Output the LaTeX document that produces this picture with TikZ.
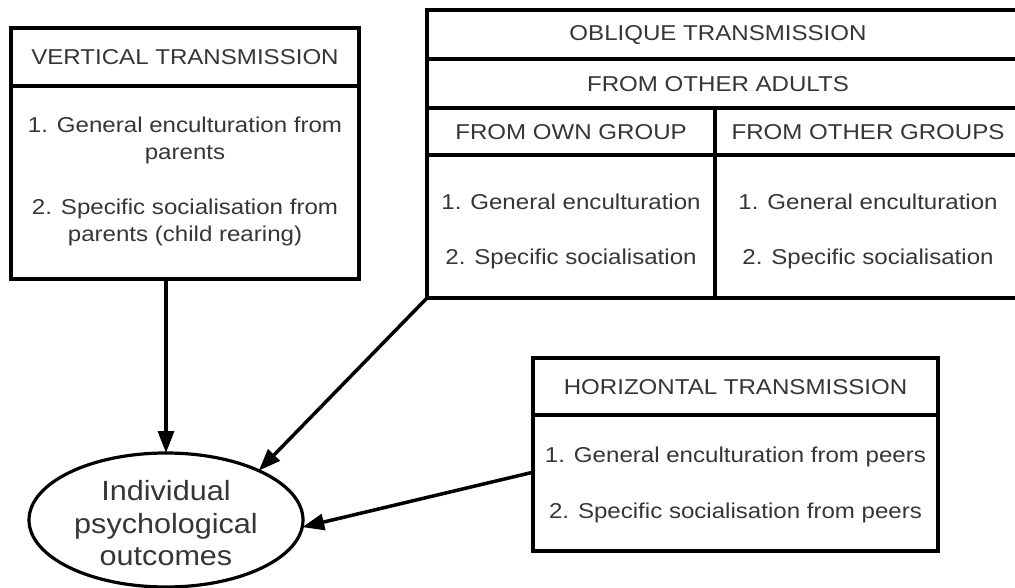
\documentclass[tikz,border=0pt]{standalone}
\usepackage{fontspec}
\setmainfont{Liberation Sans}
\usetikzlibrary{arrows.meta,shapes.geometric}
\definecolor{ink}{HTML}{363636}
\tikzset{
  frame/.style={draw=black, line width=3.2pt, inner sep=0pt, outer sep=0pt, anchor=north west},
  rule/.style={draw=black, line width=3.2pt},
  txt/.style={text=ink, inner sep=0pt, anchor=base, xscale=1.12,
    font=\fontsize{21.5}{26}\selectfont},
  big/.style={text=ink, inner sep=0pt, anchor=base, xscale=1.1,
    font=\fontsize{27.8}{33}\selectfont},
  link/.style={draw=black, line width=3.5pt, -{Triangle[length=22pt,width=16pt]}},
}
\begin{document}
\begin{tikzpicture}[x=1pt,y=-1pt]
\useasboundingbox (0,0) rectangle (1015,588);
\fill[white] (0,0) rectangle (1015,588);
\clip (0,0) rectangle (1015,588);

% Vertical transmission
\node[frame, minimum width=348pt, minimum height=251pt] (vbox) at (11,28) {};
\coordinate (vdiv) at (0,86);
\draw[rule] (vbox.west |- vdiv) -- (vbox.east |- vdiv);
\node[txt] (vhead) at (185,65) {VERTICAL TRANSMISSION};
\node[txt] (v1a) at (185,133) {1. General enculturation from};
\node[txt] (v1b) at (185,160) {parents};
\node[txt] (v2a) at (185,215) {2. Specific socialisation from};
\node[txt] (v2b) at (185,242) {parents (child rearing)};

% Oblique transmission (runs past the right edge)
\node[frame, minimum width=595pt, minimum height=288pt] (obox) at (427,10) {};
\coordinate (orow1) at (0,59);
\coordinate (orow2) at (0,108);
\coordinate (orow3) at (0,155);
\coordinate (ocol) at (715,0);
\draw[rule] (obox.west |- orow1) -- (obox.east |- orow1);
\draw[rule] (obox.west |- orow2) -- (obox.east |- orow2);
\draw[rule] (obox.west |- orow3) -- (obox.east |- orow3);
\draw[rule] (ocol |- orow2) -- (ocol |- obox.south);
\node[txt] (ohead) at (718,41) {OBLIQUE TRANSMISSION};
\node[txt] (oadults) at (718,92) {FROM OTHER ADULTS};
\node[txt] (oown) at (571,140) {FROM OWN GROUP};
\node[txt] (oother) at (868,140) {FROM OTHER GROUPS};
\node[txt] (oown1) at (571,210) {1. General enculturation};
\node[txt] (oown2) at (571,265) {2. Specific socialisation};
\node[txt] (oother1) at (868,210) {1. General enculturation};
\node[txt] (oother2) at (868,265) {2. Specific socialisation};

% Horizontal transmission
\node[frame, minimum width=405pt, minimum height=193pt] (hbox) at (533,358) {};
\coordinate (hdiv) at (0,415);
\draw[rule] (hbox.west |- hdiv) -- (hbox.east |- hdiv);
\node[txt] (hhead) at (735.5,394) {HORIZONTAL TRANSMISSION};
\node[txt] (h1) at (735.5,462) {1. General enculturation from peers};
\node[txt] (h2) at (735.5,518) {2. Specific socialisation from peers};

% Outcome
\node[draw=black, ellipse, line width=3.2pt, minimum width=274pt, minimum height=134pt,
  inner sep=0pt, outer sep=0pt] (ell) at (166,520) {};
\node[big] (e1) at (166,500) {Individual};
\node[big] (e2) at (166,533) {psychological};
\node[big] (e3) at (166,565) {outcomes};

% Influences
\draw[link] (vbox.south -| ell.north) -- (ell.north);
\draw[link] (obox.south west) -- (ell.28.5);
\draw[link] (hbox.185.8) -- (ell.-3);
\end{tikzpicture}
\end{document}
